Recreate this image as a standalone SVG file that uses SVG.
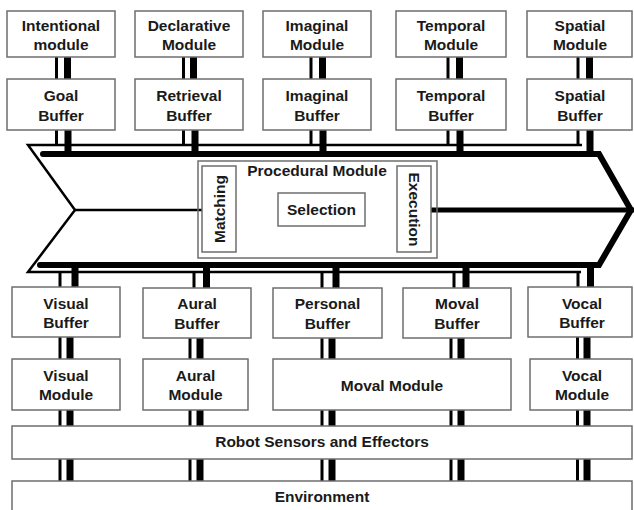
<svg xmlns="http://www.w3.org/2000/svg" width="634" height="510" viewBox="0 0 634 510">
<style>
.box{fill:#fff;stroke:#6e6e6e;stroke-width:1.5}
.frame{fill:none;stroke:#6e6e6e;stroke-width:1.5}
.t{font-family:"Liberation Sans",Arial,Helvetica,sans-serif;font-weight:bold;font-size:15.5px;fill:#1a1a1a;text-anchor:middle}
.thin{stroke:#000;stroke-width:3;fill:none}
.thick{stroke:#000;stroke-width:7;fill:none}
</style>
<rect width="634" height="510" fill="#fff"/>
<g id="connectors">
  <path d="M582,145 H28 L75,210 L28,272 H581" stroke="#000" stroke-width="2.5" fill="none" stroke-linejoin="miter"/>
  <path d="M43,154 H599 L631,210 L599,265 H40" stroke="#000" stroke-width="6" fill="none" stroke-linecap="round" stroke-linejoin="miter"/>
  <path d="M75,210 H202" stroke="#000" stroke-width="2.5"/>
  <path d="M430,210 H634" stroke="#000" stroke-width="5" stroke-linecap="round"/>
  <path class="thin" d="M56.5,57 V79 M183.5,57 V79 M311,57 V79 M448,57 V79 M578,57 V79"/>
  <path class="thick" d="M67.5,57 V79 M193.5,57 V79 M322.5,57 V79 M459.5,57 V79 M589.5,57 V79"/>
  <path class="thin" d="M56.5,130 V145 M183.5,130 V145 M311,130 V145 M448,130 V145 M578,130 V145"/>
  <path class="thick" d="M68,130 V154 M195,130 V154 M323,130 V154 M460,130 V154 M590,130 V154"/>
  <path class="thin" d="M60,272 V287 M194,272 V288 M322,272 V288 M454,272 V288 M578,272 V287"/>
  <path class="thick" d="M75,265 V287 M206.5,265 V288 M336,265 V288 M466,265 V288 M590.5,265 V287"/>
  <path class="thin" d="M60,337 V359 M190,338 V359 M322,338 V359 M451,338 V359 M577.5,337 V359"/>
  <path class="thick" d="M70,337 V359 M200,338 V359 M332,338 V359 M461,338 V359 M587,337 V359"/>
  <path class="thin" d="M60,410 V426 M190,410 V426 M322,410 V426 M451,410 V426 M577.5,410 V426"/>
  <path class="thick" d="M70,410 V426 M200,410 V426 M332,410 V426 M461,410 V426 M587,410 V426"/>
  <path class="thin" d="M60,459 V481 M190,459 V481 M322,459 V481 M451,459 V481 M577.5,459 V481"/>
  <path class="thick" d="M70,459 V481 M200,459 V481 M332,459 V481 M461,459 V481 M587,459 V481"/>
</g>
<g id="intentional-module"><rect class="box" x="7" y="11" width="108" height="46"/><text class="t" x="61" y="30.5">Intentional</text><text class="t" x="61" y="49.5">module</text></g>
<g id="declarative-module"><rect class="box" x="135" y="11" width="108" height="46"/><text class="t" x="189" y="30.5">Declarative</text><text class="t" x="189" y="49.5">Module</text></g>
<g id="imaginal-module"><rect class="box" x="263" y="11" width="108" height="46"/><text class="t" x="317" y="30.5">Imaginal</text><text class="t" x="317" y="49.5">Module</text></g>
<g id="temporal-module"><rect class="box" x="396" y="11" width="110" height="46"/><text class="t" x="451" y="30.5">Temporal</text><text class="t" x="451" y="49.5">Module</text></g>
<g id="spatial-module"><rect class="box" x="527" y="11" width="105" height="46"/><text class="t" x="580" y="30.5">Spatial</text><text class="t" x="580" y="49.5">Module</text></g>

<g id="goal-buffer"><rect class="box" x="7" y="79" width="108" height="51"/><text class="t" x="61" y="100.5">Goal</text><text class="t" x="61" y="120.5">Buffer</text></g>
<g id="retrieval-buffer"><rect class="box" x="135" y="79" width="108" height="51"/><text class="t" x="189" y="100.5">Retrieval</text><text class="t" x="189" y="120.5">Buffer</text></g>
<g id="imaginal-buffer"><rect class="box" x="263" y="79" width="108" height="51"/><text class="t" x="317" y="100.5">Imaginal</text><text class="t" x="317" y="120.5">Buffer</text></g>
<g id="temporal-buffer"><rect class="box" x="396" y="79" width="110" height="51"/><text class="t" x="451" y="100.5">Temporal</text><text class="t" x="451" y="120.5">Buffer</text></g>
<g id="spatial-buffer"><rect class="box" x="527" y="79" width="105" height="51"/><text class="t" x="580" y="100.5">Spatial</text><text class="t" x="580" y="120.5">Buffer</text></g>

<g id="procedural-module">
  <rect class="frame" x="198" y="161" width="239" height="97"/>
  <text class="t" x="317" y="175.5">Procedural Module</text>
</g>
<g id="matching"><rect class="box" x="202" y="166" width="34" height="86"/><text class="t" transform="translate(224.5,209) rotate(-90)">Matching</text></g>
<g id="selection"><rect class="box" x="278" y="193" width="87" height="33"/><text class="t" x="321.5" y="214.5">Selection</text></g>
<g id="execution"><rect class="box" x="397" y="166" width="34" height="86"/><text class="t" transform="translate(408.5,209.5) rotate(90)">Execution</text></g>

<g id="visual-buffer"><rect class="box" x="12" y="287" width="108" height="50"/><text class="t" x="66" y="308.5">Visual</text><text class="t" x="66" y="328">Buffer</text></g>
<g id="aural-buffer"><rect class="box" x="143" y="288" width="108" height="50"/><text class="t" x="197" y="309">Aural</text><text class="t" x="197" y="328.5">Buffer</text></g>
<g id="personal-buffer"><rect class="box" x="273" y="288" width="109" height="50"/><text class="t" x="327.5" y="309">Personal</text><text class="t" x="327.5" y="328.5">Buffer</text></g>
<g id="moval-buffer"><rect class="box" x="403" y="288" width="108" height="50"/><text class="t" x="457" y="309">Moval</text><text class="t" x="457" y="328.5">Buffer</text></g>
<g id="vocal-buffer"><rect class="box" x="528" y="287" width="104" height="50"/><text class="t" x="582" y="308.5">Vocal</text><text class="t" x="582" y="328">Buffer</text></g>

<g id="visual-module"><rect class="box" x="12" y="359" width="108" height="51"/><text class="t" x="66" y="381">Visual</text><text class="t" x="66" y="400">Module</text></g>
<g id="aural-module"><rect class="box" x="143" y="359" width="105" height="51"/><text class="t" x="195.5" y="381">Aural</text><text class="t" x="195.5" y="400">Module</text></g>
<g id="moval-module"><rect class="box" x="273" y="359" width="238" height="51"/><text class="t" x="392" y="390.5">Moval Module</text></g>
<g id="vocal-module"><rect class="box" x="530" y="359" width="102" height="51"/><text class="t" x="582" y="381">Vocal</text><text class="t" x="582" y="400">Module</text></g>

<g id="robot-sensors-effectors"><rect class="box" x="12" y="426" width="620" height="33"/><text class="t" x="322" y="447">Robot Sensors and Effectors</text></g>
<g id="environment"><rect class="box" x="12" y="481" width="620" height="40"/><text class="t" x="322" y="502">Environment</text></g>
</svg>
